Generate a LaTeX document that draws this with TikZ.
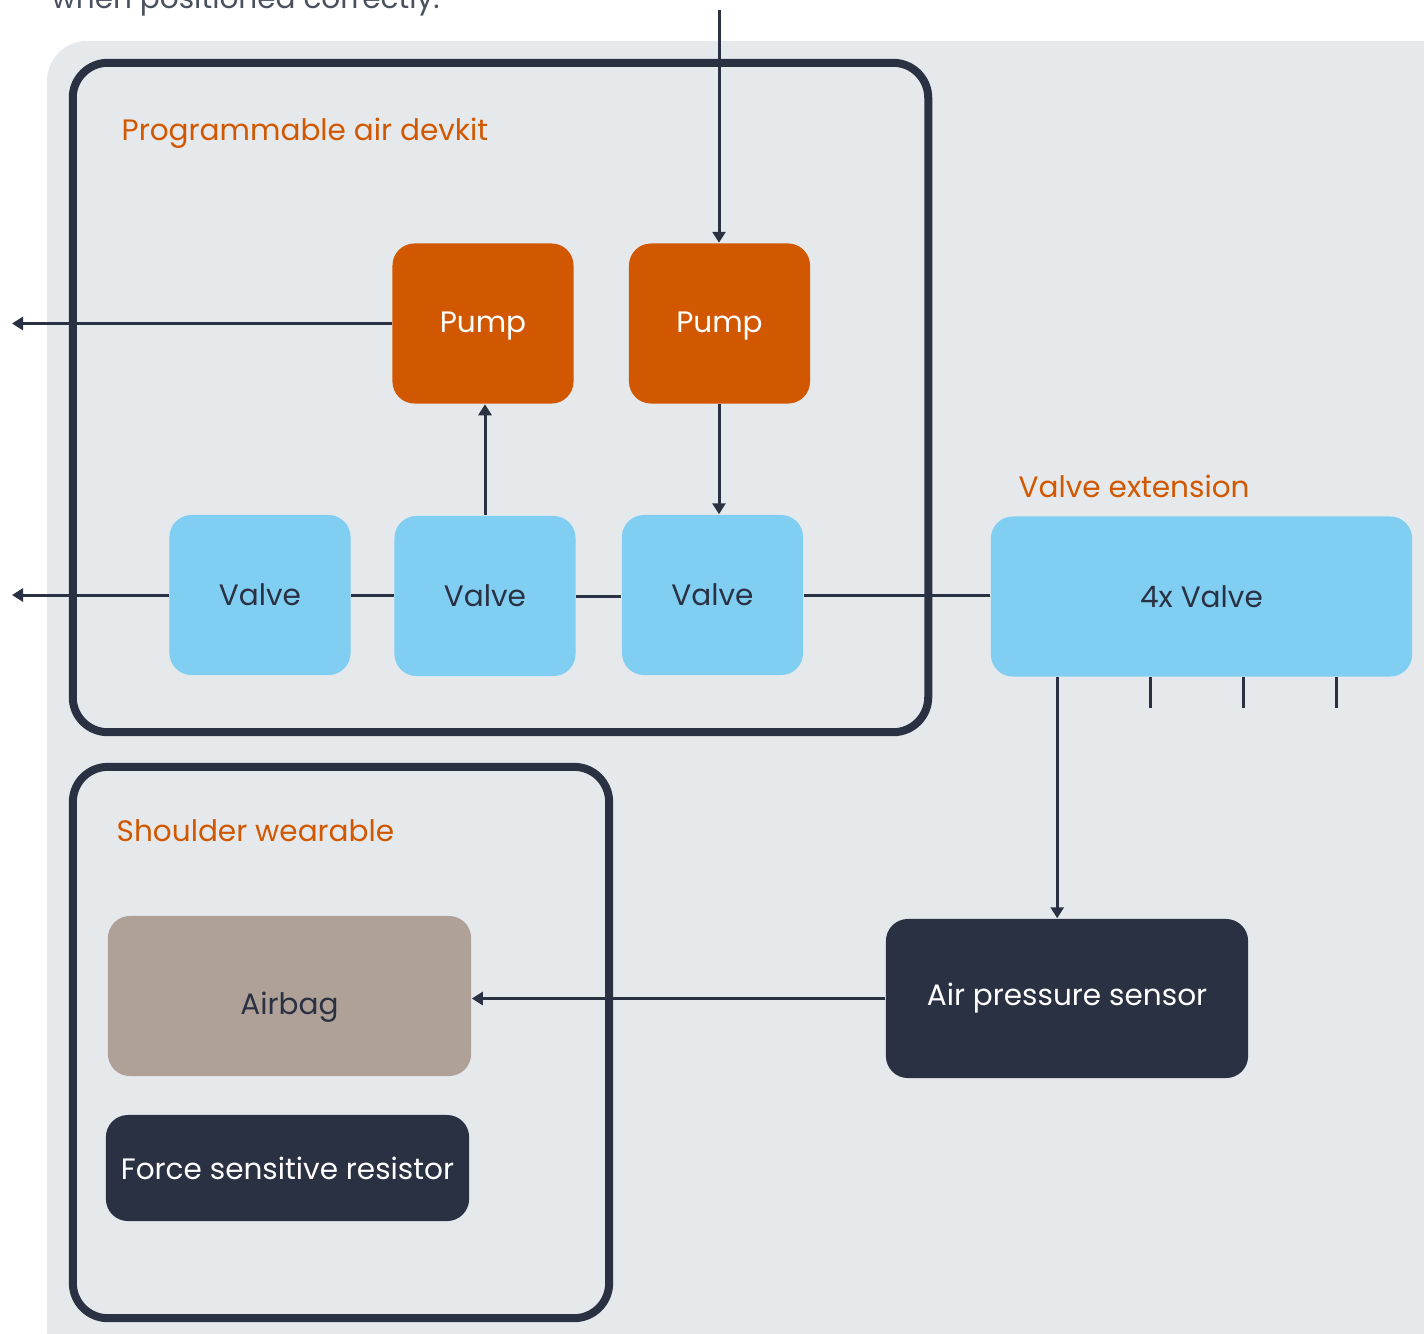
\documentclass[tikz,border=0pt]{standalone}
\usepackage{fontspec}
\setmainfont{Poppins}
\usepackage{tikz}
\usetikzlibrary{arrows.meta, positioning, calc}
\definecolor{kitorange}{RGB}{209, 88,  0}
\definecolor{kitblue}  {RGB}{129,206,243}
\definecolor{kitdark}  {RGB}{ 42, 49, 66}
\definecolor{kitbg}    {RGB}{230,233,236}
\definecolor{kittaupe} {RGB}{175,161,151}
\tikzset{
	block/.style={rectangle, rounded corners=0.22cm, inner sep=0pt, font=\fontsize{8.4}{10}\selectfont},
	pumpbox/.style={block, fill=kitorange, text=white, minimum width=1.81cm, minimum height=1.6cm},
	valvebox/.style={block, fill=kitblue, text=kitdark, minimum width=1.81cm, minimum height=1.6cm},
	darkbox/.style={block, fill=kitdark, text=white},
	groupbox/.style={rectangle, draw=kitdark, line width=0.08cm, rounded corners=0.35cm, inner sep=0pt},
	grouplabel/.style={anchor=base west, text=kitorange, inner sep=0pt, font=\fontsize{8.4}{10}\selectfont},
	conn/.style={draw=kitdark, line width=0.03cm, -{Triangle[length=0.11cm,width=0.13cm]}},
	link/.style={draw=kitdark, line width=0.03cm},
}
\newcommand{\lowered}[2]{\raisebox{-#1}[\height][\depth]{#2}}
\begin{document}
\begin{tikzpicture}[x=0.01cm, y=-0.01cm]
	\useasboundingbox (0,0) rectangle (1424,1333);
	\clip (0,0) rectangle (1424,1333);
	\node[anchor=base west, inner sep=0pt, text=kitdark!85, font=\fontsize{8.4}{10}\selectfont] (note) at (51,8) {when positioned correctly.};
	\fill[kitbg, rounded corners=0.4cm] (47,41) rectangle (1500,1400);

	% programmable air devkit
	\node[groupbox, minimum width=8.55cm, minimum height=6.69cm] (devkit) at (500.5,397.5) {};
	\node[grouplabel] (devkitlbl) at (121,140) {Programmable air devkit};
	\node[pumpbox] (p1) at (483,323.5) {\lowered{0.03cm}{Pump}};
	\node[pumpbox] (p2) at (719.5,323.5) {\lowered{0.03cm}{Pump}};
	\node[valvebox] (v1) at (260,595) {Valve};
	\node[valvebox] (v2) at (485,596) {Valve};
	\node[valvebox] (v3) at (712.5,595) {Valve};

	% valve extension
	\node[grouplabel] (extlbl) at (1018,497) {Valve extension};
	\node[valvebox, minimum width=4.21cm] (ext) at (1201.5,596.5) {4x Valve};
	\node[darkbox, minimum width=3.62cm, minimum height=1.59cm] (sensor) at (1067,998.5) {Air pressure sensor};

	% shoulder wearable
	\node[groupbox, minimum width=5.36cm, minimum height=5.51cm] (wear) at (341,1042.5) {};
	\node[grouplabel] (wearlbl) at (116,841) {Shoulder wearable};
	\node[block, fill=kittaupe, text=kitdark, minimum width=3.63cm, minimum height=1.6cm] (airbag) at (289.5,996) {\lowered{0.11cm}{Airbag}};
	\node[darkbox, minimum width=3.63cm, minimum height=1.06cm] (fsr) at (287.5,1168) {Force sensitive resistor};

	% connectors
	\coordinate (in) at (719,10);
	\coordinate (out1) at (12,323);
	\coordinate (out2) at (12,595);
	\draw[conn] (in) -- (in |- p2.north);
	\draw[conn] (p2.south -| in) -- (in |- v3.north);
	\draw[conn] (v2.north) -- (v2.north |- p1.south);
	\draw[conn] (p1.west) -- (p1.west -| out1);
	\draw[conn] (v1.west) -- (v1.west -| out2);
	\draw[link] (v1.east) -- (v1.east -| v2.west);
	\draw[link] (v2.east) -- (v2.east -| v3.west);
	\draw[link] (v3.east) -- (v3.east -| ext.west);
	\draw[conn] ([xshift=0.67cm]ext.south west) coordinate (t0) -- (t0 |- sensor.north);
	\foreach \dx in {1.60,2.53,3.46}
		\draw[link] ([xshift=\dx cm]ext.south west) -- ++(0,31);
	\draw[conn] (sensor.west) -- (sensor.west -| airbag.east);
\end{tikzpicture}
\end{document}
